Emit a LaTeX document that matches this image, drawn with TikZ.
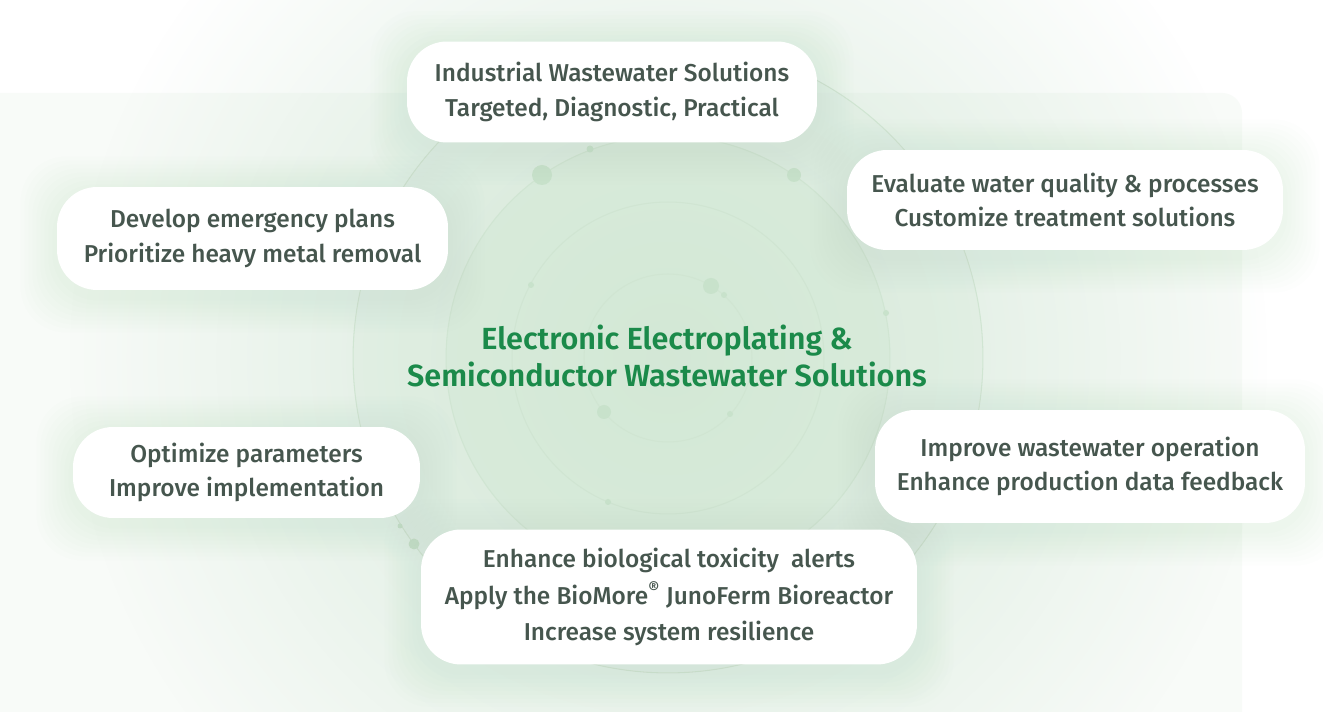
\documentclass[tikz,border=0pt]{standalone}
\usepackage{fontspec}
\setmainfont{Fira Sans}[UprightFont={* Medium}, BoldFont={* SemiBold}]
\usepackage{tikz}
\usetikzlibrary{positioning, fadings}
\usepackage{xcolor}

\definecolor{txtgray}{HTML}{46564E}
\definecolor{titlegreen}{HTML}{1B8A4A}
\definecolor{ringline}{HTML}{D0E5D2}
\definecolor{ringfill}{HTML}{D3E9D5}
\definecolor{dotgreen}{HTML}{C8E2CB}
\definecolor{panelbg}{HTML}{F8FBF8}
\definecolor{haze}{HTML}{A7CFB0}

\tikzfading[name=hazefade, inner color=transparent!0, outer color=transparent!100]

\pgfdeclarelayer{back}
\pgfdeclarelayer{glow}
\pgfsetlayers{back,glow,main}

\begin{document}
\begin{tikzpicture}[x=0.02cm, y=-0.02cm]
    % Define styles
    \tikzstyle{bubble}=[fill=white, rounded corners=0.8cm, align=center, text=txtgray, inner sep=0pt, font=\fontsize{13.9pt}{19.8pt}\selectfont]
    \tikzstyle{ring}=[draw=ringline, line width=0.6pt]
    \tikzstyle{dot}=[fill=dotgreen]

    \useasboundingbox (0,0) rectangle (1323,712);

    % Background - panel, haze and rings
    \begin{pgfonlayer}{back}
        \fill[white] (0,0) rectangle (1323,712);
        \fill[panelbg, rounded corners=0.4cm] (-50,93) rectangle (1242,780);
        \fill[haze, opacity=0.45, path fading=hazefade] (668,358) circle[radius=12cm];
        \fill[ringfill, opacity=0.25] (668,358) circle[radius=6.3cm];
        \fill[ringfill, opacity=0.45] (668,358) circle[radius=4.44cm];
        % Rings (outer to inner)
        \foreach \r in {6.3, 4.44, 3.12, 1.68} {
            \draw[ring] (668,358) circle[radius=\r cm];
        }
        % Dots sitting on the rings
        \foreach \x/\y/\s in {542/175/10, 794/175/7, 590/149/3.5, 886/313/3, 531/285/3, 608/502/3, 711/286/8, 724/295/3, 604/412/7, 730/414/3, 414/544/5.5, 400/526/2.5} {
            \fill[dot] (\x,\y) circle[radius=\s*0.02cm];
        }
    \end{pgfonlayer}

    % Centre title
    \node[font=\fontsize{17.4pt}{21pt}\selectfont\bfseries, text=titlegreen, align=center] (title) at (667,356) {Electronic Electroplating \&\\Semiconductor Wastewater Solutions};

    % Bubbles around the rings
    \node[bubble, minimum width=8.2cm, minimum height=2.02cm] (industrial) at (612,92) {Industrial Wastewater Solutions\\Targeted, Diagnostic, Practical};
    \node[bubble, minimum width=7.82cm, minimum height=2.06cm] (emergency) at (252.5,238.5) {Develop emergency plans\\Prioritize heavy metal removal};
    \node[bubble, minimum width=8.72cm, minimum height=2cm] (evaluate) at (1065,200) {Evaluate water quality \& processes\\Customize treatment solutions};
    \node[bubble, minimum width=6.94cm, minimum height=1.82cm] (optimize) at (246.5,472.5) {Optimize parameters\\Improve implementation};
    \node[bubble, minimum width=8.6cm, minimum height=2.26cm] (operation) at (1090,466.5) {Improve wastewater operation\\Enhance production data feedback};
    \node[bubble, minimum width=9.92cm, minimum height=2.7cm, font=\fontsize{13.9pt}{20.6pt}\selectfont] (toxicity) at (669,597) {Enhance biological toxicity\ \ alerts\\Apply the BioMore\textsuperscript{®} JunoFerm Bioreactor\\Increase system resilience};

    % Soft glow under each bubble
    \begin{pgfonlayer}{glow}
        \foreach \b in {industrial, emergency, evaluate, optimize, operation, toxicity} {
            \foreach \g in {4,8,...,36} {
                \fill[haze, opacity=0.02, rounded corners=0.9cm] ([shift={(-\g,\g+6)}]\b.south west) rectangle ([shift={(\g,-\g+6)}]\b.north east);
            }
        }
    \end{pgfonlayer}
\end{tikzpicture}
\end{document}
